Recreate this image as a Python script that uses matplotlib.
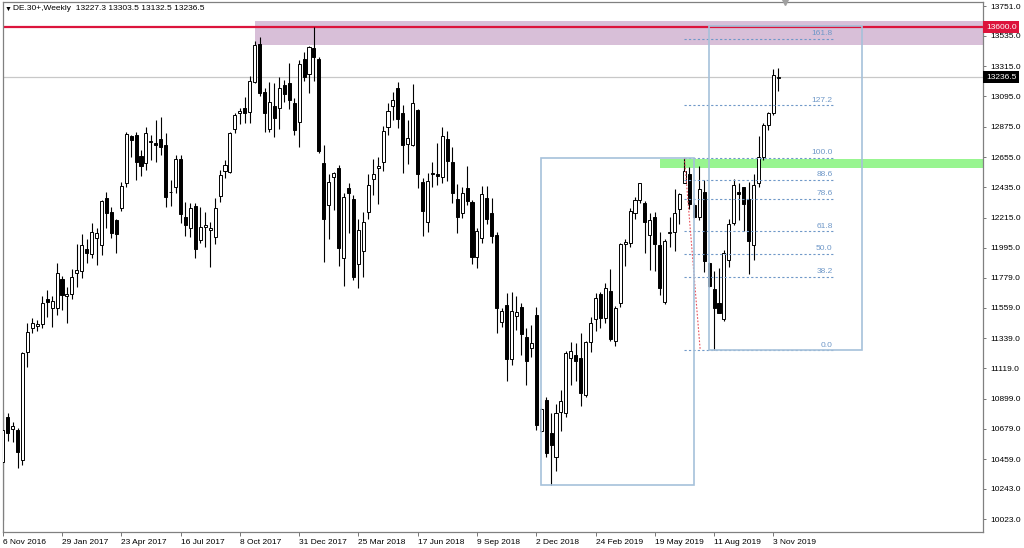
import matplotlib
matplotlib.use("Agg")
import matplotlib.pyplot as plt
import matplotlib.transforms as mtransforms
from matplotlib.patches import Rectangle
import numpy as np

plt.rcParams['font.family'] = ['Liberation Sans', 'DejaVu Sans']

# ---------------- data (weekly candles, 6 Nov 2016 .. 10 Nov 2019) ----------------
opens = [10440, 10763, 10676, 10672, 10454, 11236, 11410, 11427, 11442, 11621,
         11556, 11556, 11766, 11645, 11660, 11810, 11829, 11984, 11950, 12064,
         12013, 12355, 12258, 12198, 12287, 12464, 12808, 12815, 12663, 12614,
         12767, 12760, 12789, 12745, 12403, 12435, 12643, 12222, 12137, 12299,
         12052, 12144, 12125, 12076, 12372, 12556, 12549, 12856, 12978, 13009,
         12985, 13203, 13477, 13130, 12856, 13026, 13009, 13179, 13191, 13050,
         12912, 13365, 13258, 13445, 13365, 12614, 12307, 12512, 12573, 11919,
         12432, 12348, 11875, 11972, 12258, 12493, 12573, 12621, 12871, 13026,
         13154, 12973, 12750, 12743, 12997, 12476, 12181, 12541, 12530, 12512,
         12786, 12621, 12348, 12246, 12428, 12331, 11926, 12064, 12355, 12246,
         12089, 11459, 11580, 11185, 11500, 11563, 11350, 11270, 11507, 10667,
         10890, 10652, 10478, 10805, 10793, 11192, 11216, 11192, 10926, 11313,
         11476, 11660, 11483, 11684, 11321, 11597, 12023, 12033, 12251, 12343,
         12323, 12089, 12217, 12016, 11604, 12101, 12113, 12275, 12469, 12532,
         12307, 12222, 12403, 11887, 11694, 11592, 11476, 11907, 12178, 12401,
         12435, 12350, 12014, 12464, 12658, 12888, 12973, 13227.3]
highs = [10800, 10793, 10732, 10684, 11241, 11447, 11483, 11471, 11645, 11689,
         11645, 11888, 11791, 11713, 11839, 12023, 12096, 12057, 12173, 12137,
         12343, 12403, 12294, 12202, 12476, 12837, 12815, 12839, 12706, 12876,
         12815, 12924, 12944, 12832, 12488, 12670, 12670, 12331, 12324, 12323,
         12290, 12258, 12185, 12360, 12561, 12634, 12839, 12973, 13009, 13089,
         13244, 13501, 13530, 13154, 13203, 13191, 13239, 13215, 13336, 13082,
         13360, 13416, 13462, 13598, 13380, 12743, 12532, 12549, 12597, 12396,
         12469, 12379, 12202, 12258, 12532, 12638, 12653, 12881, 13045, 13130,
         13203, 13033, 12924, 13183, 13002, 12500, 12537, 12621, 12760, 12876,
         12847, 12726, 12457, 12440, 12590, 12340, 12137, 12445, 12445, 12355,
         12108, 11556, 11665, 11677, 11645, 11592, 11410, 11435, 11563, 10829,
         10909, 10793, 10861, 10962, 11248, 11313, 11301, 11379, 11321, 11495,
         11670, 11677, 11737, 11839, 11573, 12033, 12057, 12282, 12367, 12470,
         12338, 12246, 12258, 12113, 12057, 12222, 12420, 12396, 12650, 12585,
         12319, 12590, 12488, 11890, 11829, 11846, 11979, 12202, 12493, 12464,
         12440, 12476, 12532, 12808, 12900, 12985, 13292, 13303.5]
lows = [10020, 10594, 10587, 10393, 10417, 11132, 11374, 11393, 11410, 11495,
        11422, 11507, 11543, 11451, 11620, 11713, 11774, 11883, 11919, 11871,
        11941, 12137, 12064, 11960, 12265, 12440, 12658, 12488, 12517, 12561,
        12634, 12621, 12670, 12294, 12299, 12391, 12178, 12081, 12072, 11924,
        12028, 12004, 11858, 12023, 12331, 12500, 12537, 12832, 12893, 12900,
        12900, 13191, 13099, 12839, 12839, 12803, 12856, 13057, 13002, 12815,
        12726, 13210, 13123, 13210, 12682, 11895, 12057, 12270, 11863, 11718,
        12105, 11762, 11701, 11786, 12202, 12379, 12314, 12556, 12815, 12924,
        12864, 12537, 12604, 12735, 12428, 12081, 12108, 12440, 12452, 12469,
        12483, 12324, 12101, 12210, 12307, 11878, 11846, 12033, 12169, 12033,
        11374, 11418, 11030, 11144, 11398, 11217, 10999, 11200, 10672, 10659,
        10473, 10272, 10376, 10667, 10768, 11000, 11030, 10846, 10914, 11241,
        11393, 11410, 11452, 11321, 11282, 11568, 11863, 12001, 12202, 12323,
        11955, 11834, 11829, 11653, 11587, 12004, 11975, 12169, 12464, 12275,
        12210, 12197, 11822, 11713, 11250, 11519, 11466, 11854, 12161, 12198,
        12120, 11805, 11907, 12440, 12633, 12852, 12960, 13132.5]
closes = [10670, 10652, 10700, 10514, 11229, 11386, 11451, 11442, 11597, 11602,
          11611, 11810, 11650, 11660, 11781, 11834, 12013, 11955, 12110, 12101,
          12338, 12251, 12105, 12096, 12445, 12822, 12779, 12621, 12590, 12832,
          12770, 12745, 12726, 12362, 12400, 12638, 12239, 12161, 12282, 11984,
          12149, 12161, 12142, 12282, 12524, 12597, 12832, 12961, 12987, 12978,
          13208, 13469, 13118, 12973, 13057, 12941, 13154, 13113, 13070, 12852,
          13331, 13234, 13452, 13380, 12699, 12202, 12476, 12537, 11992, 12367,
          12396, 11781, 12125, 12185, 12452, 12532, 12590, 12847, 12992, 13070,
          12929, 12743, 12791, 13045, 12532, 12265, 12481, 12529, 12520, 12808,
          12629, 12396, 12222, 12391, 12336, 11931, 12120, 12386, 12205, 12081,
          11556, 11536, 11185, 11539, 11532, 11369, 11175, 11306, 10708, 10822,
          10507, 10563, 10793, 10882, 11233, 11248, 11175, 10938, 11313, 11452,
          11628, 11483, 11701, 11330, 11556, 12023, 12040, 12263, 12343, 12464,
          12185, 12197, 12023, 11701, 12047, 12113, 12251, 12386, 12556, 12314,
          12222, 12420, 11902, 11718, 11556, 11524, 11955, 12168, 12452, 12387,
          12311, 12047, 12452, 12653, 12888, 12973, 13251, 13236.5]

date_tick_idx = [0, 12, 24, 36, 48, 60, 72, 84, 96, 108, 120, 132, 144, 156]
date_tick_labels = ["6 Nov 2016", "29 Jan 2017", "23 Apr 2017", "16 Jul 2017",
                    "8 Oct 2017", "31 Dec 2017", "25 Mar 2018", "17 Jun 2018",
                    "9 Sep 2018", "2 Dec 2018", "24 Feb 2019", "19 May 2019",
                    "11 Aug 2019", "3 Nov 2019"]
price_ticks = [13751, 13535, 13315, 13095, 12875, 12655, 12435, 12215, 11995,
               11779, 11559, 11339, 11119, 10899, 10679, 10459, 10243, 10023]

title_text = "DE.30+,Weekly  13227.3 13303.5 13132.5 13236.5"
resistance_level = 13600.0
bid_level = 13236.5

purple_zone = (51, 13470, 13640)      # start index, low, high
green_zone = (133, 12578, 12640)
box1 = (109, 140, 10272, 12650)       # x0, x1, low, high
box2 = (143, 174, 11250, 13608)

fib_low, fib_high = 11250, 12650
fib_x0, fib_x1 = 138, 168
fib_trend = ([138, 141.2], [12650, 11250])
fib_levels = [0.0, 38.2, 50.0, 61.8, 78.6, 88.6, 100.0, 127.2, 161.8]

# ---------------- figure ----------------
W, H = 1024, 548
fig = plt.figure(figsize=(W / 100, H / 100), dpi=100, facecolor='white')
ax_l, ax_r, ax_t, ax_b = 2.7, 983.0, 2.0, 531.7
ax = fig.add_axes([ax_l / W, (H - ax_b) / H, (ax_r - ax_l) / W, (ax_b - ax_t) / H])
ax.set_facecolor('white')

px_per_bar = 4.94
ax.set_xlim(0, (ax_r - ax_l) / px_per_bar)
ax.set_ylim(9932.4, 13781.7)

o = np.array(opens); h = np.array(highs); l = np.array(lows); c = np.array(closes)
idx = np.arange(len(o))
bull = c >= o

# zones (background)
ax.add_patch(Rectangle((purple_zone[0], purple_zone[1]), 300, purple_zone[2] - purple_zone[1],
                       facecolor='#d8bfd8', edgecolor='none', zorder=0.5))
ax.add_patch(Rectangle((green_zone[0], green_zone[1]), 300, green_zone[2] - green_zone[1],
                       facecolor='#98f590', edgecolor='none', zorder=0.5))
ax.axhline(bid_level, color='#c8c8c8', lw=0.9, zorder=0.8)
ax.axhline(resistance_level, color='#dc143c', lw=1.6, zorder=2.2)

# candles
ax.vlines(idx, l, h, color='black', lw=0.8, zorder=2.5)
bw = 0.62
ax.bar(idx[bull], (c - o)[bull], bottom=o[bull], width=bw, color='white',
       edgecolor='black', linewidth=0.7, zorder=3)
ax.bar(idx[~bull], (o - c)[~bull], bottom=c[~bull], width=bw, color='black',
       edgecolor='black', linewidth=0.7, zorder=3)

# boxes
for bx in (box1, box2):
    ax.add_patch(Rectangle((bx[0], bx[2]), bx[1] - bx[0], bx[3] - bx[2],
                           facecolor='none', edgecolor='#a6c1da', lw=1.2, zorder=4))

# fibonacci
rng = fib_high - fib_low
for lv in fib_levels:
    yv = fib_low + rng * lv / 100.0
    ax.plot([fib_x0, fib_x1], [yv, yv], color='#6f98c8', lw=0.8,
            linestyle=(0, (2, 2)), zorder=3.5)
    ax.text(fib_x1, yv + 12, f"{lv:.1f}", ha='right', va='bottom',
            fontsize=6, color='#6f98c8', zorder=5)
ax.plot(fib_trend[0], fib_trend[1], color='#e8505a', lw=0.8,
        linestyle=(0, (1.5, 1.5)), zorder=3.6)

# axes styling
for s in ax.spines.values():
    s.set_color('#808080')
    s.set_linewidth(0.9)
ax.yaxis.tick_right()
ax.set_yticks(price_ticks)
ax.set_yticklabels([f"{v:.1f}" for v in price_ticks])
ax.tick_params(axis='y', length=2, width=0.6, pad=3, labelsize=6,
               color='#606060', labelcolor='black')
ax.set_xticks(date_tick_idx)
ax.set_xticklabels(date_tick_labels)
ax.tick_params(axis='x', length=3, width=0.6, pad=2, labelsize=6,
               color='#606060', labelcolor='black')
for lab in ax.get_xticklabels():
    lab.set_ha('left')

# price labels on the right axis
trans = mtransforms.blended_transform_factory(ax.transAxes, ax.transData)
ax.text(1.003, resistance_level, f"{resistance_level:.1f}", transform=trans,
        ha='left', va='center', fontsize=6, color='white', zorder=6,
        bbox=dict(boxstyle='square,pad=0.3', fc='#dc143c', ec='none'), clip_on=False)
ax.text(1.003, bid_level, f"{bid_level:.1f}", transform=trans,
        ha='left', va='center', fontsize=6, color='white', zorder=6,
        bbox=dict(boxstyle='square,pad=0.3', fc='black', ec='none'), clip_on=False)

# chart shift marker
ax.plot([len(o) + 0.4], [ax.get_ylim()[1]], marker='v', color='#a0a0a0',
        markersize=4, clip_on=False, zorder=6)

# title
fig.text(5 / W, 1 - 9 / H, "\u25bc", fontsize=5, va='center', ha='left')
fig.text(13 / W, 1 - 9 / H, title_text, fontsize=6, va='center', ha='left')

fig.savefig("out.png", dpi=100, facecolor='white')
